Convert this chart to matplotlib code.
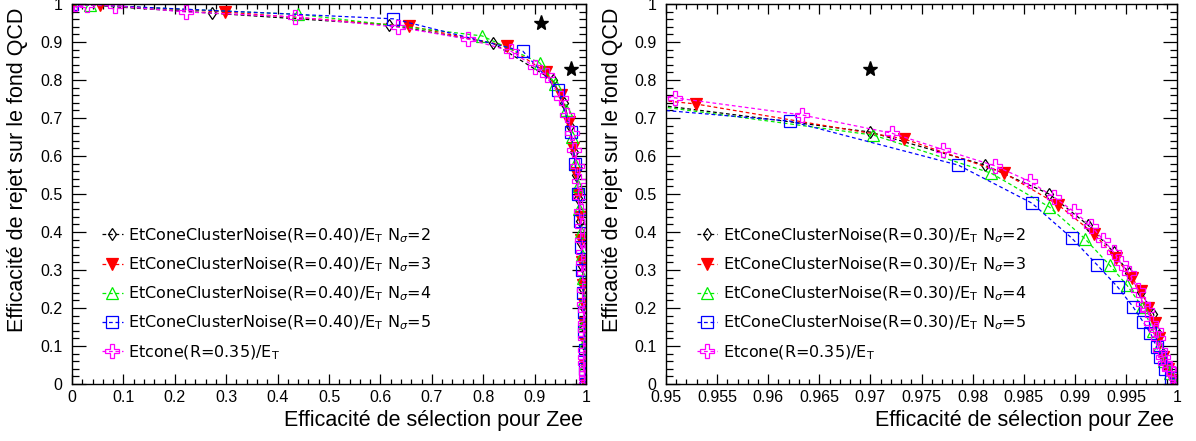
import matplotlib
matplotlib.use("Agg")
import matplotlib.pyplot as plt
from matplotlib import ticker as mtick

# ---- data ----
# left panel: EtConeClusterNoise R=0.40
eff_n2_r40 = [0.0, 0.272, 0.617, 0.819, 0.935, 0.958, 0.968, 0.976, 0.981, 0.985, 0.988, 0.991, 0.993, 0.995, 0.996, 0.997, 0.998, 0.999, 1.0]
rej_n2_r40 = [1.0, 0.976, 0.945, 0.897, 0.80, 0.74, 0.68, 0.61, 0.55, 0.49, 0.43, 0.37, 0.31, 0.25, 0.20, 0.15, 0.10, 0.05, 0.0]
eff_n3_r40 = [0.0, 0.054, 0.298, 0.656, 0.846, 0.922, 0.952, 0.966, 0.975, 0.981, 0.985, 0.988, 0.991, 0.993, 0.995, 0.996, 0.997, 0.998, 0.999, 1.0]
rej_n3_r40 = [1.0, 0.997, 0.979, 0.942, 0.889, 0.821, 0.76, 0.69, 0.62, 0.555, 0.50, 0.44, 0.38, 0.32, 0.26, 0.21, 0.16, 0.11, 0.05, 0.0]
eff_n4_r40 = [0.0, 0.035, 0.44, 0.798, 0.91, 0.94, 0.962, 0.972, 0.979, 0.984, 0.987, 0.99, 0.992, 0.994, 0.996, 0.997, 0.998, 0.999, 1.0]
rej_n4_r40 = [1.0, 0.997, 0.973, 0.916, 0.845, 0.79, 0.72, 0.65, 0.58, 0.52, 0.46, 0.40, 0.34, 0.28, 0.22, 0.16, 0.11, 0.05, 0.0]
eff_n5_r40 = [0.0, 0.625, 0.877, 0.946, 0.971, 0.979, 0.985, 0.988, 0.991, 0.993, 0.995, 0.996, 0.997, 0.998, 0.999, 1.0]
rej_n5_r40 = [1.0, 0.961, 0.876, 0.773, 0.663, 0.58, 0.50, 0.43, 0.36, 0.30, 0.24, 0.19, 0.14, 0.09, 0.04, 0.0]

# right panel: EtConeClusterNoise R=0.30
eff_n2_r30 = [0.93, 0.970, 0.9812, 0.9875, 0.9913, 0.9938, 0.9953, 0.9965, 0.9977, 0.9982, 0.9986, 0.9991, 0.9996, 1.0]
rej_n2_r30 = [0.80, 0.663, 0.576, 0.500, 0.418, 0.347, 0.292, 0.242, 0.184, 0.13, 0.08, 0.04, 0.015, 0.0]
eff_n3_r30 = [0.93, 0.9529, 0.9733, 0.9831, 0.9884, 0.9919, 0.9940, 0.9956, 0.9965, 0.9972, 0.9978, 0.9982, 0.9986, 0.9991, 0.9996, 1.0]
rej_n3_r30 = [0.80, 0.737, 0.645, 0.555, 0.471, 0.395, 0.332, 0.279, 0.245, 0.20, 0.16, 0.12, 0.07, 0.04, 0.01, 0.0]
eff_n4_r30 = [0.93, 0.9703, 0.9818, 0.9875, 0.9910, 0.9934, 0.9951, 0.9966, 0.9977, 0.9982, 0.9987, 0.9993, 1.0]
rej_n4_r30 = [0.80, 0.655, 0.555, 0.466, 0.382, 0.313, 0.26, 0.203, 0.139, 0.10, 0.06, 0.03, 0.0]
eff_n5_r30 = [0.88, 0.9621, 0.9786, 0.9858, 0.9897, 0.9922, 0.9942, 0.9957, 0.9967, 0.9974, 0.9980, 0.9983, 0.9988, 0.9994, 1.0]
rej_n5_r30 = [0.88, 0.692, 0.576, 0.476, 0.384, 0.313, 0.255, 0.203, 0.163, 0.134, 0.098, 0.071, 0.04, 0.015, 0.0]

# Etcone(R=0.35), same curve on both panels
eff_etcone = [0.0, 0.006, 0.029, 0.084, 0.222, 0.434, 0.634, 0.770, 0.854, 0.901, 0.924, 0.9509, 0.9633,
              0.9721, 0.9771, 0.9822, 0.9856, 0.9880, 0.9899, 0.9916, 0.9928, 0.9938, 0.9945, 0.9953,
              0.9962, 0.9967, 0.9971, 0.9975, 0.9979, 0.9981, 0.9983, 0.9986, 0.9988, 0.9992, 0.9996, 0.9999, 1.0]
rej_etcone = [1.0, 1.0, 0.997, 0.995, 0.979, 0.966, 0.939, 0.908, 0.876, 0.834, 0.812, 0.753, 0.708,
              0.660, 0.617, 0.574, 0.533, 0.491, 0.454, 0.416, 0.379, 0.347, 0.318, 0.292,
              0.247, 0.211, 0.195, 0.16, 0.142, 0.12, 0.089, 0.07, 0.055, 0.04, 0.029, 0.016, 0.0]

# reference points (stars)
star_eff = [0.912, 0.97]
star_rej = [0.95, 0.83]

labels_r40 = [r"EtConeClusterNoise(R=0.40)/E$_\mathrm{T}$ N$_\sigma$=%d" % n for n in (2, 3, 4, 5)]
labels_r30 = [r"EtConeClusterNoise(R=0.30)/E$_\mathrm{T}$ N$_\sigma$=%d" % n for n in (2, 3, 4, 5)]
label_etcone = r"Etcone(R=0.35)/E$_\mathrm{T}$"
xlabel = "Efficacité de sélection pour Zee"
ylabel = "Efficacité de rejet sur le fond QCD"

# ---- styles ----
styles = [
    dict(color="black", marker="d", mfc="none", ms=6.5, mew=0.9),
    dict(color="#ff0000", marker="v", mfc="#ff0000", ms=9, mew=0.9),
    dict(color="#00ee00", marker="^", mfc="none", ms=9, mew=0.9),
    dict(color="#0000ff", marker="s", mfc="none", ms=8.5, mew=0.9),
]
style_etcone = dict(color="#ff00ff", marker="P", mfc="none", ms=9.5, mew=0.9)
dash = (3, 2.2)

plt.rcParams["font.family"] = ["Liberation Sans", "DejaVu Sans"]
plt.rcParams["mathtext.fontset"] = "dejavusans"

fig = plt.figure(figsize=(11.96, 4.41), dpi=100)
W, H = 1196.0, 441.0
ax1 = fig.add_axes([72 / W, 1 - 384 / H, 514 / W, 380 / H])
ax2 = fig.add_axes([666 / W, 1 - 384 / H, 511 / W, 380 / H])


def draw(ax, series, labels, xmin, xmaj, xmin_step, leg_x):
    handles = []
    for (x, y), lab, st in zip(series, labels, styles):
        h, = ax.plot(x, y, lw=0.9, ls=(0, dash), label=lab, **st)
        handles.append(h)
    h, = ax.plot(eff_etcone, rej_etcone, lw=0.9, ls=(0, dash), label=label_etcone, **style_etcone)
    handles.append(h)
    ax.plot(star_eff, star_rej, ls="none", marker="*", color="black", ms=11)

    ax.set_xlim(xmin, 1.0)
    ax.set_ylim(0, 1.0)
    ax.xaxis.set_major_locator(mtick.MultipleLocator(xmaj))
    ax.xaxis.set_minor_locator(mtick.MultipleLocator(xmin_step))
    ax.yaxis.set_major_locator(mtick.MultipleLocator(0.1))
    ax.yaxis.set_minor_locator(mtick.MultipleLocator(0.02))
    fmt = mtick.FuncFormatter(lambda v, p: "%g" % round(v, 4))
    ax.xaxis.set_major_formatter(fmt)
    ax.yaxis.set_major_formatter(fmt)
    ax.tick_params(which="both", direction="in", top=True, right=True, labelsize=11.5, width=0.9)
    ax.tick_params(axis="x", which="major", length=7, pad=4)
    ax.tick_params(axis="x", which="minor", length=3.5)
    ax.tick_params(axis="y", which="major", length=10, pad=7)
    ax.tick_params(axis="y", which="minor", length=5)
    for sp in ax.spines.values():
        sp.set_linewidth(1.0)

    ax.set_xlabel(xlabel, fontsize=15.5, loc="right")
    ax.xaxis.set_label_coords(0.995, -0.068)
    ax.set_ylabel(ylabel, fontsize=15.5, loc="top")
    ax.yaxis.set_label_coords(-0.085, 0.99)

    ax.legend(handles=handles, loc="upper left", bbox_to_anchor=(leg_x, 0.415),
              frameon=False, prop=dict(family="DejaVu Sans", size=11.5),
              handlelength=1.3, handletextpad=0.35, labelspacing=0.68,
              borderpad=0, borderaxespad=0)


draw(ax1, [(eff_n2_r40, rej_n2_r40), (eff_n3_r40, rej_n3_r40), (eff_n4_r40, rej_n4_r40), (eff_n5_r40, rej_n5_r40)],
     labels_r40, 0.0, 0.1, 0.02, 0.058)
draw(ax2, [(eff_n2_r30, rej_n2_r30), (eff_n3_r30, rej_n3_r30), (eff_n4_r30, rej_n4_r30), (eff_n5_r30, rej_n5_r30)],
     labels_r30, 0.95, 0.005, 0.001, 0.06)

fig.savefig("out.png", dpi=100)
